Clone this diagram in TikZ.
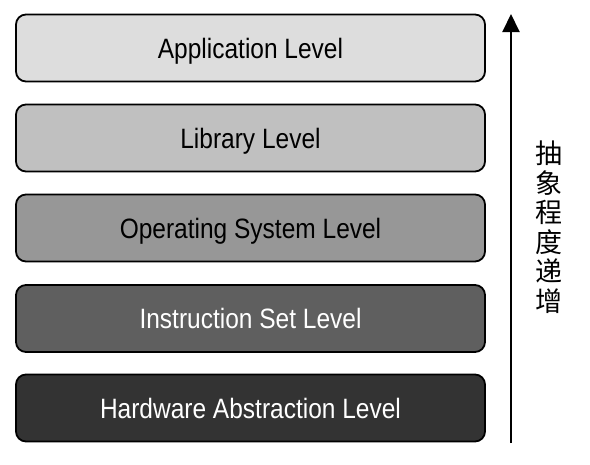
\documentclass[tikz,border=0pt]{standalone}
\usepackage{fontspec}
\setmainfont{Liberation Sans}[FakeStretch=0.875]
\newfontfamily\cjk{Noto Sans CJK SC}
\usetikzlibrary{arrows.meta}
\definecolor{lvA}{HTML}{DDDDDD}
\definecolor{lvB}{HTML}{C0C0C0}
\definecolor{lvC}{HTML}{979797}
\definecolor{lvD}{HTML}{5F5F5F}
\definecolor{lvE}{HTML}{333333}
\begin{document}
\begin{tikzpicture}[x=1pt,y=-1pt,
  levelbox/.style={draw=black,line width=1.8pt,rounded corners=10pt,
    minimum width=469pt,minimum height=67pt,inner sep=0pt,
    text height=20pt,text depth=0pt,
    font=\fontsize{28}{30}\selectfont},
  updown/.style={line width=2pt,-{Triangle[width=17pt,length=18pt]}}]
\useasboundingbox (0,0) rectangle (590,464);
\node[levelbox,fill=lvA] (app) at (250.5,48) {Application Level};
\node[levelbox,fill=lvB] (lib) at (250.5,138) {Library Level};
\node[levelbox,fill=lvC] (os) at (250.5,228) {Operating System Level};
\node[levelbox,fill=lvD,text=white] (isa) at (250.5,318.5) {Instruction Set Level};
\node[levelbox,fill=lvE,text=white] (hal) at (250.5,408) {Hardware Abstraction Level};
\coordinate (abot) at (511,443);
\coordinate (atop) at (511,14);
\draw[updown] (abot) -- (atop);
\node[font=\cjk\fontsize{27}{29.5}\selectfont,align=center,inner sep=0pt] (lbl) at (549,227)
  {抽\\象\\程\\度\\递\\增};
\end{tikzpicture}
\end{document}
